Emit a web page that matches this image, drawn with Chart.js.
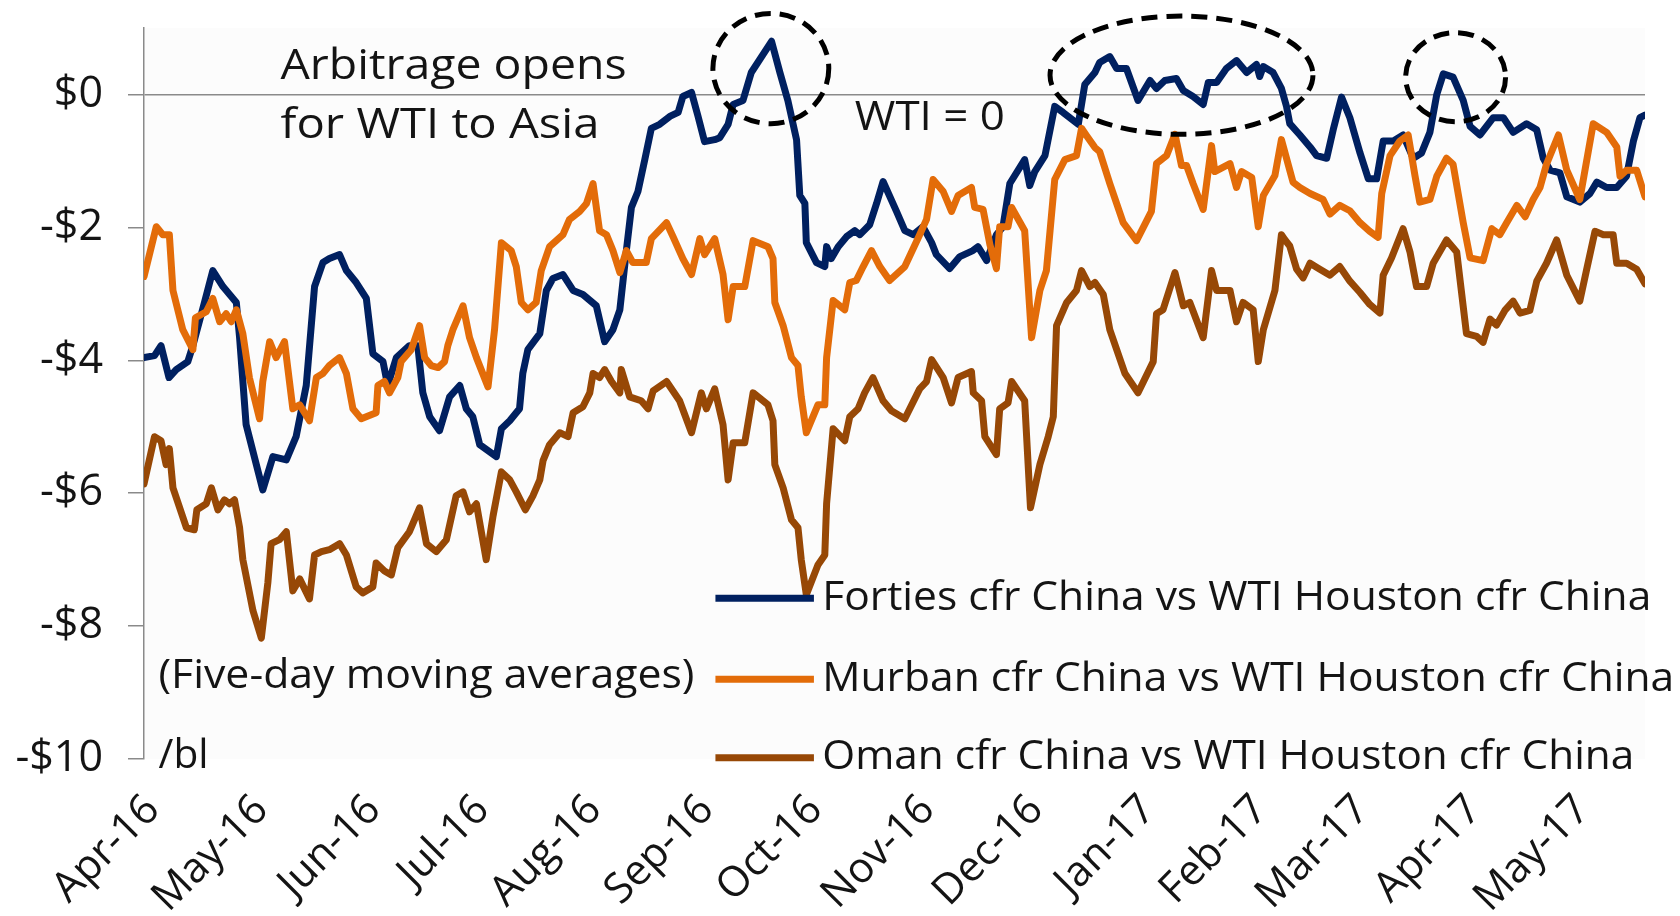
<!DOCTYPE html>
<html><head><meta charset="utf-8">
<script src="https://cdn.jsdelivr.net/npm/chart.js@4/dist/chart.umd.min.js"></script>
<style>html,body{margin:0;padding:0;background:#fff;}#wrap{width:1680px;height:916px;position:relative;}</style>
</head><body><div id="wrap"><canvas id="c"></canvas></div>
<script>
// ---- tick labels (x in days since 1 Apr 2016) ----
const monthTickDays = [0,30,61,91,122,153,183,214,244,275,306,334,365,395];
const monthTickLabels = ['Apr-16','May-16','Jun-16','Jul-16','Aug-16','Sep-16','Oct-16','Nov-16','Dec-16','Jan-17','Feb-17','Mar-17','Apr-17','May-17'];
const yTickValues = [0,-2,-4,-6,-8,-10];
const seriesLabels = ['Forties cfr China vs WTI Houston cfr China','Murban cfr China vs WTI Houston cfr China','Oman cfr China vs WTI Houston cfr China'];

// ---- Forties ----
const fortiesDays = [0,2.9,4.7,6.9,8.9,12.1,13.5,16.7,19.0,21.8,25.5,26.4,28.2,32.8,35.6,39.3,42.0,44.8,47.1,49.4,51.2,54.0,55.9,58.6,61.4,63.2,66.0,67.3,69.7,73.3,75.6,77.0,78.9,81.6,84.4,87.2,89.0,90.8,92.7,97.3,98.7,101.0,103.7,104.6,106.0,109.3,111.1,112.9,115.7,118.5,121.2,124.9,127.2,129.5,131.4,133.2,134.6,136.4,138.3,140.1,142.4,145.2,147.5,148.8,151.2,153.0,154.8,157.6,159.0,161.3,162.7,165.4,167.7,173.3,175.6,177.8,180.2,181.1,182.5,182.9,185.7,188.0,188.5,189.8,191.7,194.0,196.3,197.7,200.4,202.3,204.1,207.8,210.1,212.4,215.1,217.5,218.8,222.5,225.3,228.9,230.3,232.7,235.4,237.2,239.1,243.2,244.6,246.0,248.8,251.5,253.8,258.0,259.8,262.6,263.9,266.7,268.6,271.3,274.5,277.8,279.6,281.9,285.1,287.0,289.7,292.5,293.9,296.2,298.9,301.7,304.5,307.2,308.1,309.1,311.8,314.1,315.5,316.4,319.2,322.0,323.8,326.6,328.4,330.7,333.0,335.8,338.1,340.4,342.2,345.0,347.7,350.5,352.8,355.1,357.0,358.8,361.5,364.3,366.2,368.9,372.6,375.4,378.1,381.8,384.6,386.4,388.3,391.0,392.9,396.5,399.3,401.2,403.9,406.7,409.4,411.3,413.1,414.5];
const fortiesValues = [-3.96,-3.93,-3.78,-4.26,-4.14,-4.02,-3.78,-3.13,-2.65,-2.89,-3.13,-3.66,-4.97,-5.95,-5.45,-5.5,-5.15,-4.38,-2.89,-2.53,-2.47,-2.41,-2.65,-2.83,-3.07,-3.9,-4.02,-4.38,-3.96,-3.78,-3.78,-4.49,-4.85,-5.06,-4.55,-4.38,-4.73,-4.85,-5.27,-5.45,-5.03,-4.91,-4.73,-4.2,-3.84,-3.6,-2.95,-2.77,-2.71,-2.95,-3.01,-3.18,-3.72,-3.54,-3.24,-2.35,-1.7,-1.46,-0.98,-0.51,-0.45,-0.33,-0.27,-0.03,0.03,-0.33,-0.71,-0.68,-0.65,-0.45,-0.15,-0.09,0.33,0.8,0.33,-0.09,-0.68,-1.52,-1.64,-2.23,-2.53,-2.59,-2.29,-2.47,-2.29,-2.14,-2.05,-2.11,-1.96,-1.64,-1.31,-1.76,-2.05,-2.11,-1.99,-2.23,-2.41,-2.62,-2.44,-2.35,-2.29,-2.5,-2.11,-1.99,-1.34,-0.98,-1.37,-1.16,-0.92,-0.18,-0.27,-0.45,0.15,0.33,0.48,0.57,0.39,0.39,-0.09,0.21,0.09,0.21,0.24,0.06,-0.03,-0.15,0.18,0.18,0.39,0.51,0.33,0.45,0.27,0.42,0.33,0.09,-0.18,-0.44,-0.61,-0.79,-0.92,-0.96,-0.53,-0.04,-0.35,-0.88,-1.27,-1.27,-0.7,-0.7,-0.61,-0.96,-0.88,-0.57,0,0.31,0.26,-0.09,-0.48,-0.61,-0.35,-0.35,-0.57,-0.44,-0.53,-0.96,-1.14,-1.18,-1.54,-1.62,-1.49,-1.32,-1.4,-1.4,-1.23,-0.7,-0.35,-0.31];

// ---- Murban ----
const murbanDays = [0,3.4,5.2,7.0,8.0,10.7,13.5,14.2,17.2,19.0,20.9,22.7,24.1,25.5,27.3,29.1,31.9,32.8,34.7,36.5,38.8,41.1,43.0,45.7,47.6,49.4,51.2,54.0,55.9,57.7,60.0,64.1,64.6,66.4,67.8,70.1,71.0,73.8,76.1,77.5,79.3,81.2,83.0,83.9,85.3,88.1,89.9,91.8,95.0,96.8,98.7,101.4,102.8,104.2,106.0,108.3,109.7,112.0,115.7,117.5,120.3,122.2,124.0,125.8,127.7,129.5,131.4,133.2,135.0,138.7,140.1,144.3,146.1,148.8,151.2,153.5,154.8,157.6,159.9,161.3,162.7,165.9,168.2,172.3,173.7,174.2,176.5,178.8,180.6,181.5,182.9,186.1,188.0,188.5,190.3,193.5,194.9,196.7,198.6,200.9,203.2,205.9,210.1,214.2,216.1,217.9,220.7,223.0,224.8,228.5,229.4,231.7,233.6,235.4,236.3,238.6,239.6,243.2,245.1,247.4,249.2,251.5,254.3,257.5,258.9,260.3,262.6,263.9,266.7,270.4,274.1,278.2,279.6,282.4,284.7,286.5,287.9,289.7,292.5,294.8,295.7,299.9,301.7,303.1,305.9,307.7,309.1,312.3,314.1,316.4,317.3,319.2,322.0,325.6,327.5,330.2,333.0,335.8,338.5,340.8,341.8,344.1,346.8,349.1,351.0,352.3,355.1,357.0,359.7,361.5,364.3,366.2,369.8,372.2,374.4,376.3,379.1,381.4,383.6,385.5,387.3,390.6,392.9,396.5,400.2,403.9,406.7,407.6,409.4,412.2,414.5];
const murbanValues = [-2.74,-1.99,-2.11,-2.11,-2.95,-3.54,-3.84,-3.36,-3.27,-3.07,-3.42,-3.3,-3.42,-3.24,-3.6,-4.26,-4.88,-4.32,-3.72,-3.96,-3.72,-4.73,-4.67,-4.91,-4.26,-4.2,-4.08,-3.96,-4.2,-4.73,-4.88,-4.79,-4.38,-4.32,-4.49,-4.26,-4.02,-3.84,-3.48,-3.96,-4.08,-4.11,-4.02,-3.78,-3.54,-3.18,-3.66,-3.96,-4.4,-3.54,-2.23,-2.35,-2.59,-3.13,-3.24,-3.13,-2.65,-2.29,-2.11,-1.88,-1.76,-1.64,-1.34,-2.05,-2.11,-2.35,-2.68,-2.35,-2.53,-2.53,-2.17,-1.93,-2.14,-2.47,-2.71,-2.17,-2.41,-2.17,-2.71,-3.39,-2.89,-2.89,-2.2,-2.29,-2.47,-3.13,-3.48,-3.96,-4.08,-4.55,-5.09,-4.67,-4.67,-3.96,-3.1,-3.24,-2.83,-2.8,-2.59,-2.35,-2.59,-2.8,-2.59,-2.11,-1.88,-1.28,-1.46,-1.76,-1.52,-1.4,-1.7,-1.73,-2.26,-2.62,-1.99,-1.99,-1.7,-2.05,-3.66,-2.95,-2.65,-1.28,-0.98,-0.92,-0.51,-0.62,-0.8,-0.86,-1.34,-1.93,-2.2,-1.76,-1.04,-0.92,-0.6,-1.07,-1.07,-1.34,-1.73,-0.77,-1.16,-1.04,-1.4,-1.16,-1.25,-1.99,-1.52,-1.22,-0.68,-1.14,-1.32,-1.4,-1.49,-1.58,-1.8,-1.67,-1.75,-1.93,-2.06,-2.15,-1.49,-0.92,-0.7,-0.61,-1.23,-1.62,-1.58,-1.23,-0.96,-1.05,-1.93,-2.46,-2.5,-2.02,-2.11,-1.93,-1.67,-1.84,-1.58,-1.4,-1.05,-0.61,-1.14,-1.58,-0.44,-0.57,-0.79,-1.23,-1.14,-1.14,-1.54];

// ---- Oman ----
const omanDays = [0,2.9,4.7,6.1,7.0,8.0,11.7,13.9,14.6,17.2,18.6,20.4,22.2,23.6,25.0,26.4,27.3,30.1,32.4,34.2,35.1,37.4,39.3,41.1,43.0,45.7,47.1,49.0,51.2,54.0,55.9,58.6,60.4,63.2,64.1,66.4,68.3,70.1,73.3,76.1,78.0,80.7,83.5,86.2,88.1,89.9,91.8,94.5,96.4,98.7,101.0,102.8,105.3,107.4,109.3,110.2,112.0,114.8,117.1,118.5,121.2,123.1,124.0,125.8,127.2,129.1,131.4,131.8,134.1,137.3,139.2,140.6,144.3,147.9,151.2,153.9,155.3,157.6,159.9,161.3,162.7,165.9,168.2,172.3,173.7,174.2,176.5,178.8,180.6,181.5,182.9,186.1,188.0,188.5,190.3,193.5,194.9,197.2,199.0,201.3,204.1,206.4,210.1,214.2,216.1,217.5,220.7,223.0,224.8,228.5,229.0,231.3,232.2,235.4,236.3,238.6,239.6,243.2,244.8,247.4,249.7,251.1,252.0,254.8,257.5,258.9,261.2,262.6,264.9,266.7,270.9,274.5,278.7,279.6,281.4,284.7,287.0,288.8,292.5,294.8,296.2,299.9,301.7,303.5,306.3,307.7,309.1,312.3,314.1,315.1,316.4,318.3,320.1,322.0,324.7,327.5,330.2,333.0,335.8,338.5,341.3,342.2,344.5,347.7,349.6,351.4,354.2,356.0,359.7,362.5,365.2,368.0,369.8,371.7,373.5,375.8,378.1,380.0,382.7,384.6,387.3,390.1,392.9,396.5,398.4,400.7,403.0,405.7,406.7,409.4,412.2,414.5];
const omanValues = [-5.86,-5.15,-5.21,-5.57,-5.33,-5.92,-6.52,-6.55,-6.25,-6.16,-5.92,-6.25,-6.1,-6.16,-6.1,-6.52,-7.0,-7.77,-8.18,-7.35,-6.76,-6.7,-6.58,-7.47,-7.29,-7.59,-6.93,-6.88,-6.85,-6.76,-6.93,-7.41,-7.5,-7.41,-7.05,-7.17,-7.23,-6.82,-6.58,-6.22,-6.76,-6.88,-6.7,-6.04,-5.98,-6.28,-6.16,-7.0,-6.34,-5.68,-5.8,-5.98,-6.25,-6.04,-5.8,-5.51,-5.27,-5.09,-5.15,-4.79,-4.7,-4.49,-4.2,-4.26,-4.14,-4.32,-4.49,-4.14,-4.55,-4.61,-4.73,-4.46,-4.32,-4.61,-5.09,-4.49,-4.73,-4.43,-4.97,-5.8,-5.24,-5.24,-4.49,-4.67,-4.91,-5.57,-5.92,-6.4,-6.52,-7.0,-7.53,-7.08,-6.93,-6.16,-5.03,-5.21,-4.85,-4.73,-4.49,-4.26,-4.61,-4.76,-4.88,-4.43,-4.32,-3.99,-4.26,-4.64,-4.26,-4.17,-4.49,-4.61,-5.15,-5.42,-4.73,-4.64,-4.32,-4.61,-6.22,-5.57,-5.15,-4.85,-3.48,-3.13,-2.95,-2.65,-2.89,-2.83,-3.01,-3.54,-4.2,-4.49,-4.02,-3.3,-3.24,-2.68,-3.18,-3.13,-3.66,-2.65,-2.95,-2.95,-3.42,-3.13,-3.24,-4.02,-3.54,-2.95,-2.11,-2.19,-2.28,-2.63,-2.76,-2.54,-2.63,-2.72,-2.59,-2.81,-2.98,-3.16,-3.29,-2.72,-2.46,-2.02,-2.37,-2.89,-2.89,-2.54,-2.19,-2.37,-3.6,-3.64,-3.73,-3.38,-3.47,-3.25,-3.11,-3.29,-3.25,-2.81,-2.54,-2.19,-2.72,-3.11,-2.63,-2.06,-2.11,-2.11,-2.54,-2.54,-2.63,-2.85];

// ---- annotations, anchored in data units (day, $/bl) ----
const noteTexts = ['Arbitrage opens','for WTI to Asia','WTI = 0','(Five-day moving averages)','/bl'];
const noteDays = [37.7,37.7,196.3,4.0,4.0];
const noteValues = [0.42,-0.48,-0.37,-8.76,-9.97];
const noteSizes = [42,42,40,40,40];
const noteWidths = [346,319,150,536,50];
const ellipseCenterDays = [173.1,286.5,362.2];
const ellipseCenterValues = [0.39,0.29,0.26];
const ellipseHalfWidthDays = [16.0,36.3,13.8];
const ellipseHalfHeightValues = [0.83,0.89,0.67];
const legendRowValues = [-7.58,-8.8,-9.98];
const legendTextWidths = [829,852,812];

const COLORS = ['#002060','#E36C09','#974806'];
const FONT = '"Open Sans", Lato, sans-serif';
const TXT = '#141414';
const AXIS = '#8a8a8a';

function pts(d,v){return d.map((x,i)=>({x:x,y:v[i]}));}
function fitText(ctx,t,x,y,size,w){
  ctx.font=size+'px '+FONT;
  const k=w/ctx.measureText(t).width;
  ctx.save(); ctx.translate(x,y); ctx.scale(k,1); ctx.fillText(t,0,0); ctx.restore();
}

const extras = {
  id:'extras',
  beforeDraw(chart){
    const {ctx, chartArea:a} = chart;
    ctx.save();
    ctx.fillStyle='#ffffff'; ctx.fillRect(0,0,chart.width,chart.height);
    ctx.fillStyle='#fcfcfc'; ctx.fillRect(a.left,a.top,a.right-a.left,a.bottom-a.top);
    ctx.restore();
  },
  afterDraw(chart){
    const {ctx, chartArea:a, scales:{x,y}} = chart;
    ctx.save();
    // month labels, rotated 45 degrees, right end at the tick
    ctx.fillStyle=TXT; ctx.font='42px '+FONT; ctx.textAlign='right'; ctx.textBaseline='middle';
    monthTickDays.forEach((d,i)=>{
      ctx.save();
      ctx.translate(x.getPixelForValue(d)+9, a.bottom+44);
      ctx.rotate(-Math.PI/4);
      ctx.fillText(monthTickLabels[i],0,0);
      ctx.restore();
    });
    ctx.textAlign='left';
    noteTexts.forEach((t,i)=>{
      fitText(ctx,t,x.getPixelForValue(noteDays[i]),y.getPixelForValue(noteValues[i]),noteSizes[i],noteWidths[i]);
    });
    ctx.strokeStyle='#000'; ctx.lineWidth=5; ctx.setLineDash([16,9]);
    ellipseCenterDays.forEach((d,i)=>{
      const cx=x.getPixelForValue(d), cy=y.getPixelForValue(ellipseCenterValues[i]);
      const rx=Math.abs(x.getPixelForValue(d+ellipseHalfWidthDays[i])-cx);
      const ry=Math.abs(y.getPixelForValue(ellipseCenterValues[i]+ellipseHalfHeightValues[i])-cy);
      ctx.beginPath(); ctx.ellipse(cx,cy,rx,ry,0,0,Math.PI*2); ctx.stroke();
    });
    ctx.setLineDash([]);
    const lx0 = x.getPixelForValue(157.8), lx1 = x.getPixelForValue(185.0), tx = x.getPixelForValue(187.3);
    chart.data.datasets.forEach((ds,i)=>{
      const ry = y.getPixelForValue(legendRowValues[i]);
      ctx.strokeStyle=ds.borderColor; ctx.lineWidth=7; ctx.lineCap='butt';
      ctx.beginPath(); ctx.moveTo(lx0,ry); ctx.lineTo(lx1,ry); ctx.stroke();
      ctx.fillStyle=TXT; ctx.textBaseline='middle'; ctx.textAlign='left';
      fitText(ctx,ds.label,tx,ry,41,legendTextWidths[i]);
    });
    ctx.restore();
  }
};

new Chart(document.getElementById('c'), {
  type:'line',
  data:{datasets:[
    {label:seriesLabels[0], data:pts(fortiesDays,fortiesValues), borderColor:COLORS[0], borderWidth:7, order:3},
    {label:seriesLabels[1], data:pts(murbanDays,murbanValues), borderColor:COLORS[1], borderWidth:7, order:2},
    {label:seriesLabels[2], data:pts(omanDays,omanValues), borderColor:COLORS[2], borderWidth:7, order:1}
  ]},
  options:{
    responsive:true, maintainAspectRatio:false, animation:false,
    layout:{padding:{left:0,right:35,top:28,bottom:0}},
    elements:{line:{tension:0,fill:false,borderJoinStyle:'round',borderCapStyle:'round'},point:{radius:0}},
    plugins:{legend:{display:false},tooltip:{enabled:false}},
    scales:{
      x:{type:'linear',min:0,max:414.5,
        afterBuildTicks(s){s.ticks=monthTickDays.map(v=>({value:v}));},
        afterFit(s){s.height=157; s.paddingLeft=0; s.paddingRight=0;},
        grid:{display:false}, border:{display:false},
        ticks:{display:false}
      },
      y:{type:'linear',min:-10,max:1,
        afterBuildTicks(s){s.ticks=yTickValues.map(v=>({value:v}));},
        afterFit(s){s.width=144; s.paddingTop=0; s.paddingBottom=0;},
        border:{display:true,color:AXIS,width:1.5},
        grid:{drawOnChartArea:true,tickLength:16,lineWidth:1.5,tickColor:AXIS,
          color(c){return (c.tick&&c.tick.value===0)?AXIS:'rgba(0,0,0,0)';}},
        ticks:{padding:25,color:TXT,font:{family:FONT,size:43},
          callback(v){return (v<0?'-$':'$')+Math.abs(v);}}
      }
    }
  },
  plugins:[extras]
});
</script></body></html>
